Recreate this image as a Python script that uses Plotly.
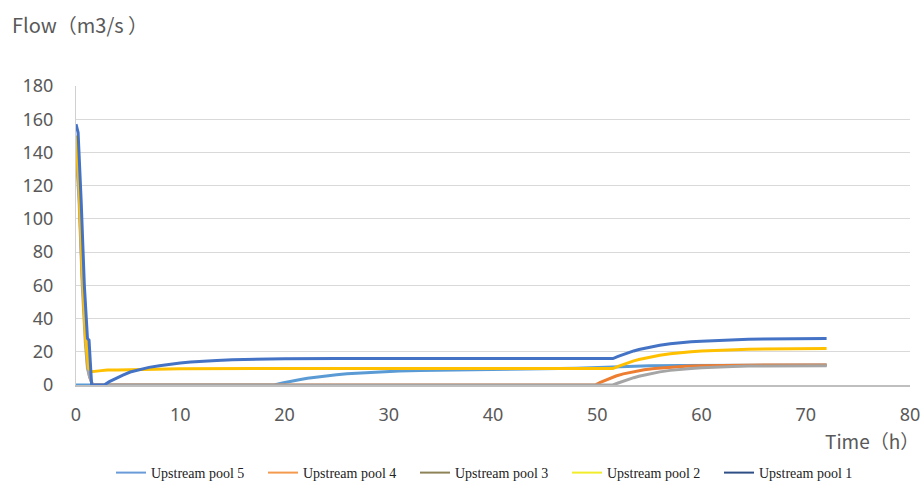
import plotly.graph_objects as go

# Flow through each upstream pool over time (h)
t_pool1 = [0, 0.2, 0.5, 0.8, 1.1, 1.25, 1.5, 2.0, 2.7, 3.2, 3.8, 4.5, 5.2, 6, 7, 8, 9, 10, 11, 12, 13.5, 15, 16.5,
           18, 20, 25, 30, 40, 51.5,
           52, 52.5, 53, 53.5, 54, 55, 56, 57, 58, 59, 60, 61.5, 63, 64.5, 66, 68, 70, 72]
q_pool1 = [157, 152, 110, 60, 28, 27, 0, 0, 0, 2, 4, 6, 7.8, 9.2, 10.6, 11.6, 12.5, 13.2, 13.8, 14.3, 14.8, 15.2, 15.5,
           15.7, 15.8, 15.9, 15.9, 15.9, 15.9,
           17.2, 18.4, 19.5, 20.5, 21.4, 22.8, 23.9, 24.8, 25.5, 26, 26.4, 26.9, 27.2, 27.5, 27.7, 27.8, 27.9, 28]

t_pool2 = [0, 0.3, 0.6, 0.9, 1.2, 1.5, 2.2, 3, 4, 6, 8, 10, 20, 30, 40, 51.5,
           52, 52.5, 53, 53.5, 54, 55, 56, 57, 58, 59, 60, 61.5, 63, 64.5, 66, 68, 70, 72]
q_pool2 = [150, 120, 70, 30, 10, 8, 8.5, 9, 9.1, 9.4, 9.6, 9.8, 9.9, 9.9, 9.9, 9.9,
           11.2, 12.4, 13.5, 14.5, 15.3, 16.8, 17.9, 18.8, 19.5, 20, 20.4, 20.9, 21.3, 21.5, 21.7, 21.9, 22, 22]

t_pool3 = [0, 0.3, 0.6, 0.9, 1.1, 1.3, 1.6, 10, 20, 30, 40, 51.5,
           52, 52.5, 53, 53.5, 54, 55, 56, 57, 58, 59, 60, 61.5, 63, 64.5, 66, 68, 70, 72]
q_pool3 = [142, 110, 60, 25, 10, 5, 0, 0, 0, 0, 0, 0,
           1.2, 2.4, 3.4, 4.4, 5.3, 6.8, 7.9, 8.8, 9.5, 10, 10.4, 10.9, 11.2, 11.4, 11.5, 11.6, 11.6, 11.6]

t_pool4 = [0, 0.3, 0.6, 0.9, 1.1, 1.3, 1.6, 10, 20, 30, 40, 49.8,
           50.3, 50.8, 51.3, 51.8, 52.5, 53.5, 54.5, 55.5, 57, 58.5, 60, 62, 64, 66, 69, 72]
q_pool4 = [150, 115, 65, 28, 12, 5, 0, 0, 0, 0, 0, 0,
           1.6, 3, 4.3, 5.4, 6.7, 8.1, 9.2, 10, 10.8, 11.3, 11.6, 11.8, 11.9, 12, 12, 12]

t_pool5 = [0, 10, 19, 19.8, 20.6, 21.4, 22.2, 23, 24, 25, 26, 27.5, 29, 31, 33, 36, 40, 44, 48, 51.5,
           53, 55, 58, 62, 66, 72]
q_pool5 = [0, 0, 0, 1.2, 2.3, 3.2, 4, 4.7, 5.5, 6.2, 6.8, 7.4, 7.9, 8.4, 8.7, 9, 9.3, 9.6, 10.1, 10.9,
           11.3, 11.6, 11.8, 11.9, 12, 12]

names = ["Upstream pool 5", "Upstream pool 4", "Upstream pool 3", "Upstream pool 2", "Upstream pool 1"]
times = [t_pool5, t_pool4, t_pool3, t_pool2, t_pool1]
flows = [q_pool5, q_pool4, q_pool3, q_pool2, q_pool1]
line_colors = ["#5B9BD5", "#ED7D31", "#A5A5A5", "#FFC000", "#4472C4"]
legend_colors = ["#6A9BD8", "#F39A4E", "#8E8358", "#F2EC2A", "#2E4E86"]

x_ticks = [0, 10, 20, 30, 40, 50, 60, 70, 80]
y_ticks = [0, 20, 40, 60, 80, 100, 120, 140, 160, 180]

W, H = 922, 483
ML, MR, MT, MB = 76, 12, 86, 98

fig = go.Figure()

# series drawn in the plot area
for name, t, q, c in zip(names, times, flows, line_colors):
    fig.add_trace(go.Scatter(x=t, y=q, mode="lines", name=name, showlegend=False,
                             line=dict(color=c, width=3)))

# legend keys
for name, c in zip(names, legend_colors):
    fig.add_trace(go.Scatter(x=[None], y=[None], mode="lines", name=name,
                             line=dict(color=c, width=2)))

axis_font = dict(family="Noto Sans, DejaVu Sans, sans-serif", size=18, color="#595959")
title_font = dict(family="Noto Sans CJK SC, Noto Sans, sans-serif", size=20, color="#595959")


def px_x(x):
    return (x - ML) / (W - ML - MR)


def px_y(y):
    return (H - MB - y) / (H - MT - MB)


fig.update_layout(
    width=W, height=H,
    margin=dict(l=ML, r=MR, t=MT, b=MB, autoexpand=False),
    paper_bgcolor="white", plot_bgcolor="white",
    xaxis=dict(range=[0, 80], tickvals=x_ticks, showgrid=False, zeroline=False,
               showline=True, linecolor="#BFBFBF", linewidth=2, automargin=False,
               tickfont=axis_font, ticks="", ticklabelstandoff=12),
    yaxis=dict(range=[0, 180], tickvals=y_ticks, showgrid=True, gridcolor="#D9D9D9", gridwidth=1,
               zeroline=False, showline=True, linecolor="#D0D0D0", linewidth=1, automargin=False,
               tickfont=axis_font, ticks="", ticklabelstandoff=18),
    legend=dict(orientation="h", x=px_x(491), xanchor="center", y=px_y(473), yanchor="middle",
                font=dict(family="Liberation Serif, Times New Roman, serif", size=14, color="#222222"),
                itemwidth=30, entrywidth=107, entrywidthmode="pixels", tracegroupgap=0),
    annotations=[
        dict(text="Flow（m3/s ）", x=px_x(10), y=px_y(25), xref="paper", yref="paper",
             showarrow=False, xanchor="left", yanchor="middle", font=title_font),
        dict(text="Time（h）", x=px_x(921), y=px_y(440), xref="paper", yref="paper",
             showarrow=False, xanchor="right", yanchor="middle",
             font=dict(family=title_font["family"], size=19, color="#595959")),
    ],
)

fig.write_html("out.html")
